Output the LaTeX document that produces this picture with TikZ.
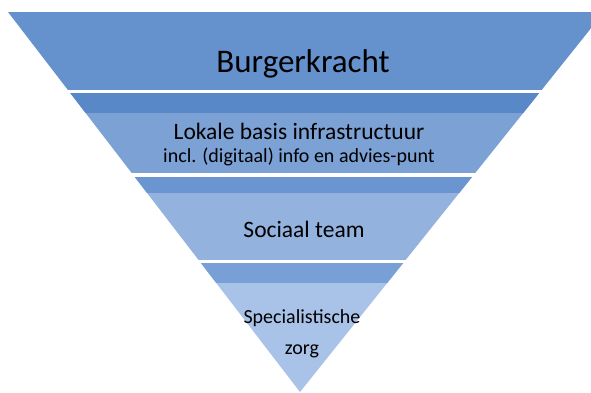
\documentclass[tikz,border=0pt]{standalone}
\usepackage{fontspec}
\setmainfont{Carlito}
\usetikzlibrary{positioning}

\definecolor{bandA}{RGB}{101,145,205}
\definecolor{bandBtop}{RGB}{88,136,199}
\definecolor{bandB}{RGB}{124,161,213}
\definecolor{bandCtop}{RGB}{106,149,208}
\definecolor{bandC}{RGB}{147,178,222}
\definecolor{bandDtop}{RGB}{120,160,215}
\definecolor{bandD}{RGB}{168,194,232}

\begin{document}
\begin{tikzpicture}[
    x=1pt,y=-1pt,
    label/.style={text=black,inner sep=0pt,align=center},
    big/.style={label,font=\fontsize{33}{38}\selectfont},
    mid/.style={label,font=\fontsize{23.5}{27}\selectfont},
    small/.style={label,font=\fontsize{20}{24}\selectfont}
]

%--- Canvas ---%
\useasboundingbox (0,0) rectangle (591,392);

%--- Inverted pyramid, cut into four bands ---%
\begin{scope}
\clip (8,12) -- (604,12) -- (300,392) -- cycle;
\clip (0,0) rectangle (591,392);
% top band
\fill[bandA] (0,12) rectangle (591,90);
% second band
\fill[bandB] (0,92.5) rectangle (591,173);
\fill[bandBtop] (0,92.5) rectangle (591,113);
% third band
\fill[bandC] (0,176.5) rectangle (591,259.5);
\fill[bandCtop] (0,176.5) rectangle (591,193);
% bottom band
\fill[bandD] (0,262.5) rectangle (591,392);
\fill[bandDtop] (0,262.5) rectangle (591,283);
\end{scope}

%--- Texts ---%
\node[big] (burger) at (303,64) {Burgerkracht};
\node[mid] (lokaal) at (299,131) {Lokale basis infrastructuur};
\node[small,below=8pt of lokaal] (info) {incl. (digitaal) info en advies-punt};
\node[mid] (sociaal) at (304,229) {Sociaal team};
\node[small] (spec) at (302,318) {Specialistische};
\node[small,below=18pt of spec] (zorg) {zorg};

\end{tikzpicture}
\end{document}
